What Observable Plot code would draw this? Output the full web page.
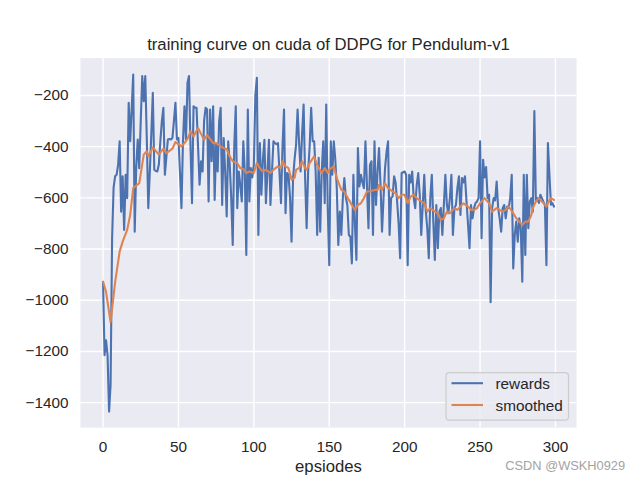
<!DOCTYPE html>
<html><head><meta charset="utf-8">
<script src="https://cdn.jsdelivr.net/npm/d3@7"></script>
<script src="https://cdn.jsdelivr.net/npm/@observablehq/plot@0.6"></script>
<style>body{margin:0;background:#fff;} svg{display:block}</style>
</head><body><div id="chart"></div>
<script>
// rewards per episode (index = episode 0..299)
const rewards = [
-928,-1215,-1157,-1215,-1435,-1330,-760,-560,-516,-510,
-470,-379,-654,-516,-725,-510,-601,-229,-379,-250,
-118,-732,-480,-372,-484,-300,-124,-222,-124,-366,
-640,-500,-350,-190,-490,-495,-497,-470,-379,-300,
-248,-510,-440,-372,-370,-372,-366,-300,-229,-372,
-366,-500,-640,-379,-242,-372,-150,-124,-400,-621,
-242,-248,-248,-400,-549,-457,-497,-300,-248,-255,
-614,-255,-457,-242,-608,-390,-497,-300,-248,-628,
-366,-500,-673,-379,-470,-600,-784,-400,-242,-640,
-497,-550,-614,-379,-500,-823,-255,-614,-484,-520,
-470,-200,-131,-745,-386,-588,-450,-373,-621,-500,
-373,-628,-500,-379,-386,-390,-386,-500,-621,-400,
-255,-660,-503,-510,-600,-771,-523,-450,-392,-255,
-386,-497,-350,-235,-523,-719,-497,-400,-248,-379,
-379,-500,-745,-444,-732,-500,-379,-621,-235,-640,
-863,-379,-510,-379,-450,-562,-784,-654,-745,-600,
-523,-600,-628,-745,-752,-856,-510,-700,-843,-405,
-555,-510,-540,-562,-379,-550,-719,-471,-457,-745,
-379,-628,-500,-405,-549,-732,-600,-484,-420,-379,
-745,-601,-595,-516,-540,-614,-700,-836,-503,-500,
-497,-510,-863,-510,-540,-497,-601,-640,-550,-503,
-588,-745,-628,-510,-650,-719,-836,-600,-510,-693,
-843,-628,-797,-654,-640,-745,-628,-510,-628,-660,
-600,-510,-745,-640,-628,-560,-516,-667,-523,-540,
-516,-614,-700,-797,-628,-680,-640,-620,-614,-601,
-379,-758,-451,-520,-480,-601,-588,-1008,-640,-601,
-610,-536,-640,-680,-732,-640,-628,-680,-634,-640,
-600,-510,-876,-745,-693,-771,-680,-719,-928,-510,
-823,-510,-719,-614,-601,-654,-261,-614,-601,-620,
-588,-601,-615,-628,-863,-386,-510,-627,-621,-634
];
// smoothed curve, read at these episodes
const smoothEpisodes = [0,2,5,8,11,13,16,18,20,24,27,29,30,33,37,40,42,46,48,50,52,54,56,58,60,63,65,67,69,71,73,75,78,80,82,84,86,89,91,93,95,97,100,102,104,106,108,111,113,116,118,119,121,123,125,127,128,130,132,134,135,137,140,141,143,145,147,149,150,153,155,158,160,163,165,167,169,171,173,175,177,180,182,183,185,187,189,192,194,196,198,200,202,204,206,208,211,213,215,217,220,222,224,226,228,230,233,235,237,239,242,244,246,248,250,253,256,258,261,263,265,267,269,272,274,276,278,280,282,284,285,287,289,291,292,294,295,297,299];
const smoothValues = [-928,-967,-1085,-930,-810,-771,-725,-667,-562,-543,-431,-418,-438,-403,-431,-408,-425,-408,-382,-390,-399,-386,-370,-340,-360,-327,-350,-373,-355,-370,-386,-386,-399,-405,-410,-438,-457,-465,-484,-487,-503,-497,-503,-464,-484,-497,-490,-503,-490,-477,-484,-457,-477,-484,-529,-522,-490,-484,-457,-484,-490,-464,-438,-457,-484,-503,-484,-503,-490,-477,-523,-569,-575,-608,-628,-647,-628,-621,-601,-575,-575,-569,-569,-549,-569,-543,-562,-575,-582,-601,-588,-588,-621,-595,-588,-601,-614,-621,-654,-640,-654,-660,-686,-680,-654,-660,-640,-647,-634,-621,-634,-647,-647,-640,-621,-601,-621,-654,-640,-647,-654,-647,-634,-660,-680,-693,-706,-693,-693,-667,-640,-614,-601,-614,-620,-634,-620,-601,-608];
const xTicks = [0,50,100,150,200,250,300];
const yTicks = [-1400,-1200,-1000,-800,-600,-400,-200];
const titleText = "training curve on cuda of DDPG for Pendulum-v1";
const xLabel = "epsiodes";
const seriesNames = ["rewards","smoothed"];
const seriesColors = ["#4C72B0","#DD8452"];
const watermark = "CSDN @WSKH0929";

const rewardRows = rewards.map((r,i)=>({episode:i, value:r}));
const smoothRows = smoothEpisodes.map((e,i)=>({episode:e, value:smoothValues[i]}));
const fmt = d => d < 0 ? "\u2212" + Math.abs(d) : String(d);

const font = "'Liberation Sans', Arial, Helvetica, sans-serif";
const W = 640, H = 480, mL = 80, mR = 64, mT = 57.6, mB = 52.8;
const chart = Plot.plot({
  width: W, height: H,
  marginLeft: mL, marginRight: mR, marginTop: mT, marginBottom: mB,
  style: {fontFamily: font, fontSize: "15.3px", background: "#fff", color: "#262626", overflow: "visible"},
  x: {domain: [-14.95, 313.95]},
  y: {domain: [-1498, -54]},
  marks: [
    Plot.frame({fill: "#EAEAF2", stroke: null}),
    Plot.gridX(xTicks, {stroke: "#fff", strokeOpacity: 1, strokeWidth: 1.4}),
    Plot.gridY(yTicks, {stroke: "#fff", strokeOpacity: 1, strokeWidth: 1.4}),
    Plot.axisX(xTicks, {tickSize: 0, tickPadding: 13, label: null, tickFormat: fmt, fill: "#262626"}),
    Plot.axisY(yTicks, {tickSize: 0, tickPadding: 12, label: null, tickFormat: fmt, fill: "#262626"}),
    Plot.line(rewardRows, {x: "episode", y: "value", stroke: seriesColors[0], strokeWidth: 2.1}),
    Plot.line(smoothRows, {x: "episode", y: "value", stroke: seriesColors[1], strokeWidth: 2.1}),
    Plot.text([titleText], {frameAnchor: "top", dy: -8, lineAnchor: "bottom", fontSize: 16.7, fill: "#262626"}),
    Plot.text([xLabel], {frameAnchor: "bottom", dy: 39, lineAnchor: "middle", fontSize: 16.7, fill: "#262626"})
  ]
});

// legend (lower right, inside the axes)
const svg = d3.select(chart);
const axRight = W - mR, axBottom = H - mB;
const lgW = 122.5, lgH = 47.5;
const lx = axRight - 7.5 - lgW, ly = axBottom - 7 - lgH;
const lg = svg.append("g").attr("font-family", font).attr("font-size", 15.3).attr("text-anchor", "start");
lg.append("rect").attr("x", lx).attr("y", ly).attr("width", lgW).attr("height", lgH)
  .attr("rx", 3.5).attr("fill", "#EAEAF2").attr("fill-opacity", 0.8).attr("stroke", "#cccccc").attr("stroke-width", 1.2);
seriesNames.forEach((name, i) => {
  const yy = ly + 10.5 + i * 21.8;
  lg.append("line").attr("x1", lx + 5.5).attr("x2", lx + 37).attr("y1", yy).attr("y2", yy)
    .attr("stroke", seriesColors[i]).attr("stroke-width", 2.1);
  lg.append("text").attr("x", lx + 49.5).attr("y", yy + 5.5).attr("text-anchor", "start").attr("fill", "#262626").text(name);
});
// watermark
svg.append("text").attr("x", 625).attr("y", 470).attr("text-anchor", "end")
  .attr("font-family", font).attr("font-size", 12.8).attr("fill", "#a3a3a3").text(watermark);

document.getElementById("chart").appendChild(chart);
</script>
</body></html>
